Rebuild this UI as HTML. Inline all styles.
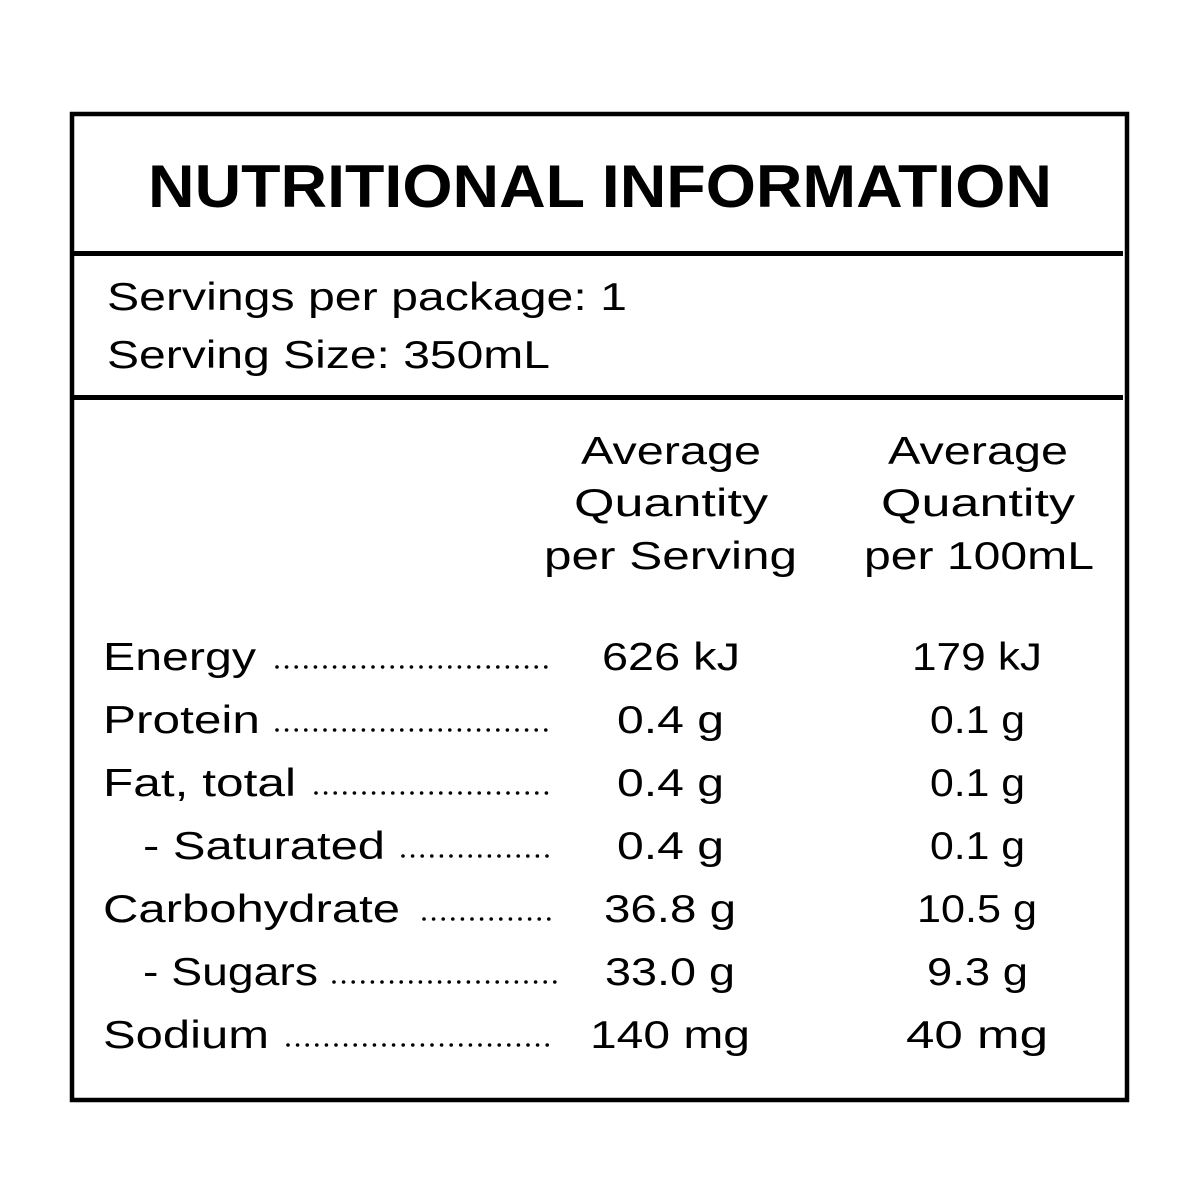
<!DOCTYPE html>
<html><head><style>html,body{margin:0;padding:0;background:#fff}svg{display:block}</style></head>
<body>
<svg width="1200" height="1200" viewBox="0 0 1200 1200" xmlns="http://www.w3.org/2000/svg" font-family="Liberation Sans, sans-serif" fill="#000">
<rect x="72" y="114" width="1055" height="986" fill="none" stroke="#000" stroke-width="4.5"/>
<rect x="72" y="251" width="1051" height="5"/>
<rect x="72" y="395" width="1051" height="5"/>
<text x="148" y="207" font-size="60" font-weight="bold" textLength="904" lengthAdjust="spacingAndGlyphs">NUTRITIONAL INFORMATION</text>
<g font-size="39">
<text x="107" y="310" textLength="520" lengthAdjust="spacingAndGlyphs">Servings per package: 1</text>
<text x="107" y="368" textLength="443" lengthAdjust="spacingAndGlyphs">Serving Size: 350mL</text>
<text x="581" y="464" textLength="180" lengthAdjust="spacingAndGlyphs">Average</text>
<text x="574" y="516" textLength="194" lengthAdjust="spacingAndGlyphs">Quantity</text>
<text x="544" y="569" textLength="253" lengthAdjust="spacingAndGlyphs">per Serving</text>
<text x="888" y="464" textLength="180" lengthAdjust="spacingAndGlyphs">Average</text>
<text x="881" y="516" textLength="194" lengthAdjust="spacingAndGlyphs">Quantity</text>
<text x="864" y="569" textLength="230" lengthAdjust="spacingAndGlyphs">per 100mL</text>

<text x="103" y="670" textLength="153" lengthAdjust="spacingAndGlyphs">Energy</text>
<text x="103" y="733" textLength="157" lengthAdjust="spacingAndGlyphs">Protein</text>
<text x="103" y="796" textLength="193" lengthAdjust="spacingAndGlyphs">Fat, total</text>
<text x="143" y="859" textLength="242" lengthAdjust="spacingAndGlyphs">- Saturated</text>
<text x="103" y="922" textLength="297" lengthAdjust="spacingAndGlyphs">Carbohydrate</text>
<text x="143" y="985" textLength="175" lengthAdjust="spacingAndGlyphs">- Sugars</text>
<text x="103" y="1048" textLength="166" lengthAdjust="spacingAndGlyphs">Sodium</text>

<text x="602" y="670" textLength="138" lengthAdjust="spacingAndGlyphs">626 kJ</text>
<text x="912" y="670" textLength="130" lengthAdjust="spacingAndGlyphs">179 kJ</text>
<text x="617" y="733" textLength="107" lengthAdjust="spacingAndGlyphs">0.4 g</text>
<text x="930" y="733" textLength="95" lengthAdjust="spacingAndGlyphs">0.1 g</text>
<text x="617" y="796" textLength="107" lengthAdjust="spacingAndGlyphs">0.4 g</text>
<text x="930" y="796" textLength="95" lengthAdjust="spacingAndGlyphs">0.1 g</text>
<text x="617" y="859" textLength="107" lengthAdjust="spacingAndGlyphs">0.4 g</text>
<text x="930" y="859" textLength="95" lengthAdjust="spacingAndGlyphs">0.1 g</text>
<text x="604" y="922" textLength="132" lengthAdjust="spacingAndGlyphs">36.8 g</text>
<text x="917" y="922" textLength="120" lengthAdjust="spacingAndGlyphs">10.5 g</text>
<text x="605" y="985" textLength="130" lengthAdjust="spacingAndGlyphs">33.0 g</text>
<text x="927" y="985" textLength="101" lengthAdjust="spacingAndGlyphs">9.3 g</text>
<text x="590" y="1048" textLength="160" lengthAdjust="spacingAndGlyphs">140 mg</text>
<text x="906" y="1048" textLength="142" lengthAdjust="spacingAndGlyphs">40 mg</text>
</g>
<g stroke="#000" stroke-width="3.6" stroke-linecap="round" stroke-dasharray="0 9.6">
<line x1="277" y1="667" x2="555" y2="667"/>
<line x1="277" y1="730" x2="555" y2="730"/>
<line x1="316" y1="793" x2="555" y2="793"/>
<line x1="403" y1="856" x2="555" y2="856"/>
<line x1="424" y1="919" x2="555" y2="919"/>
<line x1="334" y1="982" x2="555" y2="982"/>
<line x1="288" y1="1045" x2="555" y2="1045"/>
</g>
</svg>
</body></html>
